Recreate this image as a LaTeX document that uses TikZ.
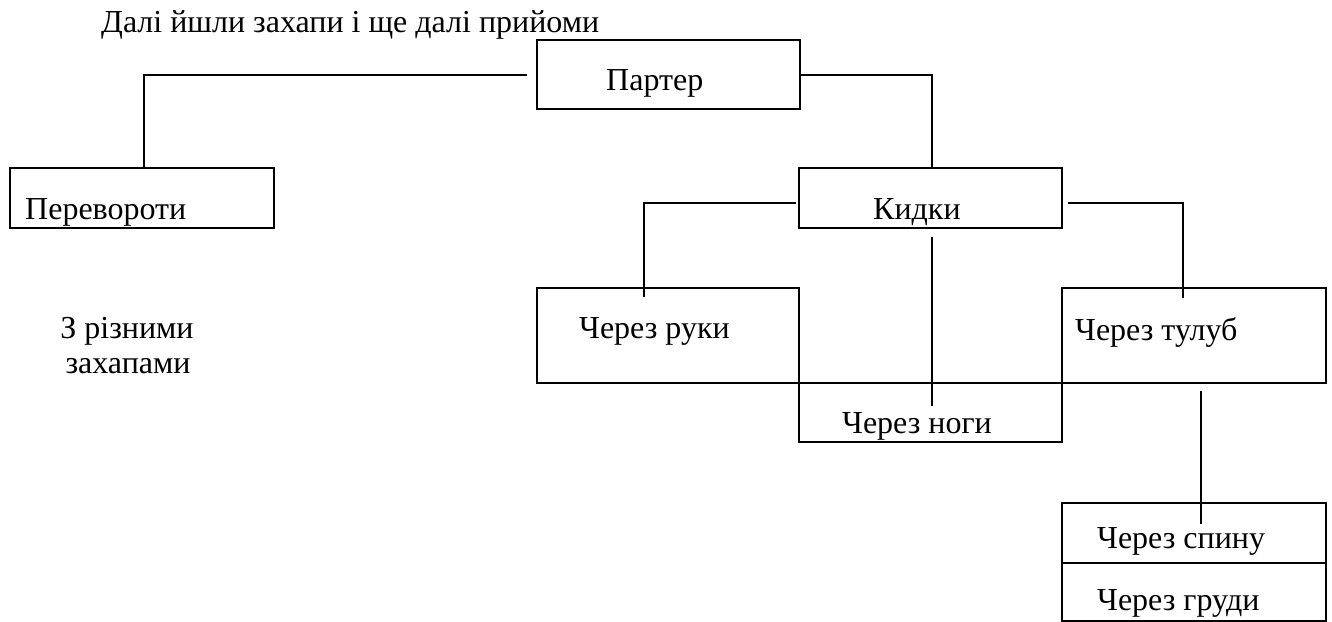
\documentclass[tikz,border=0pt]{standalone}
\usepackage{fontspec}
\setmainfont{Liberation Serif}
\begin{document}
\begin{tikzpicture}[x=1pt,y=-1pt,
  box/.style={draw=black, line width=2.4pt, rectangle, inner sep=0pt, anchor=north west},
  conn/.style={draw=black, line width=1.6pt},
  lbl/.style={anchor=base west, inner sep=0pt, font=\fontsize{32}{38}\selectfont}]
\useasboundingbox (0,0) rectangle (1332,621);
% boxes
\node[box, minimum width=263pt, minimum height=69pt] (partner) at (536,39) {};
\node[box, minimum width=264pt, minimum height=60pt] (perev) at (9,167) {};
\node[box, minimum width=263pt, minimum height=60pt] (kidky) at (798,167) {};
\node[box, minimum width=262pt, minimum height=95pt] (ruky) at (536,287) {};
\node[box, minimum width=264pt, minimum height=95pt] (tulub) at (1061,287) {};
\node[box, minimum width=263pt, minimum height=59pt] (nohy) at (798,382) {};
\node[box, minimum width=264pt, minimum height=60pt] (spynu) at (1061,502) {};
\node[box, minimum width=264pt, minimum height=58pt] (hrudy) at (1061,562) {};
% texts
\node[lbl] (title) at (101,32) {Далі йшли захапи і ще далі прийоми};
\node[lbl] (tpartner) at (606,90) {Партер};
\node[lbl] (tperev) at (25,219) {Перевороти};
\node[lbl] (tkidky) at (873,219) {Кидки};
\node[lbl] (truky) at (579,338) {Через руки};
\node[lbl] (ttulub) at (1075,340) {Через тулуб};
\node[lbl] (tnohy) at (842,433) {Через ноги};
\node[lbl] (tspynu) at (1097,548) {Через спину};
\node[lbl] (thrudy) at (1097,610) {Через груди};
\node[lbl, anchor=base] (zr1) at (127,338) {З різними};
\node[lbl, anchor=base] (zr2) at (128,373) {захапами};
% connectors
\draw[conn] ([xshift=-9pt]partner.west) -| ([xshift=2pt,yshift=-1pt]perev.north);
\draw[conn] (partner.east) -| ([xshift=1.5pt,yshift=-1pt]kidky.north);
\draw[conn] ([xshift=-2pt,yshift=-5pt]kidky.west) -| ([xshift=-24pt,yshift=-10pt]ruky.north);
\draw[conn] ([xshift=1.5pt,yshift=-8pt]kidky.south) -- ([xshift=1.5pt,yshift=-24pt]nohy.north);
\draw[conn] ([xshift=5pt,yshift=-5pt]kidky.east) -| ([xshift=-11pt,yshift=-11pt]tulub.north);
\draw[conn] ([xshift=7pt,yshift=-7pt]tulub.south) -- ([xshift=7pt,yshift=-22pt]spynu.north);
\end{tikzpicture}
\end{document}
